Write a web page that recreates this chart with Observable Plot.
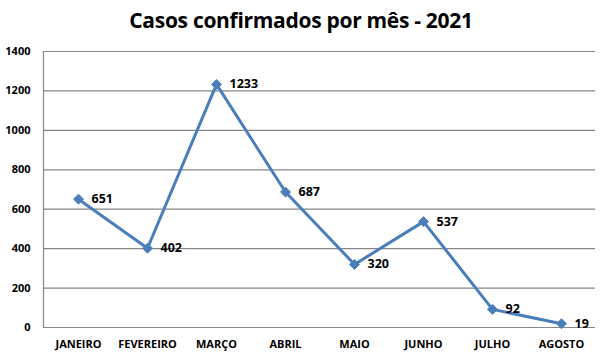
<!DOCTYPE html>
<html>
<head>
<meta charset="utf-8">
<script src="https://cdn.jsdelivr.net/npm/d3@7"></script>
<script src="https://cdn.jsdelivr.net/npm/@observablehq/plot@0.6"></script>
<style>
  body { margin: 0; background: #fff; font-family: "Open Sans", sans-serif; }
  #title { width: 602px; height: 40px; box-sizing: border-box; padding-top: 6px; text-align: center; font-size: 21px; font-weight: bold; color: #000; letter-spacing: -0.3px; }
  #chart svg { display: block; }
</style>
</head>
<body>
<div id="title">Casos confirmados por mês - 2021</div>
<div id="chart"></div>
<script>
const months = ["JANEIRO", "FEVEREIRO", "MARÇO", "ABRIL", "MAIO", "JUNHO", "JULHO", "AGOSTO"];
const cases = [651, 402, 1233, 687, 320, 537, 92, 19];
const yTicks = [0, 200, 400, 600, 800, 1000, 1200, 1400];

const data = months.map((m, i) => ({ month: m, value: cases[i] }));

const plot = Plot.plot({
  width: 602,
  height: 315,
  marginTop: 11,
  marginBottom: 28,
  marginLeft: 43,
  marginRight: 7,
  style: { fontFamily: "'Open Sans', sans-serif", fontSize: "11px", fontWeight: "bold", color: "#000", background: "#fff" },
  x: { type: "point", domain: months, padding: 0.5, label: null },
  y: { domain: [0, 1400], label: null },
  marks: [
    Plot.ruleY(yTicks, { stroke: "#868686", strokeWidth: 1.2 }),
    Plot.frame({ anchor: "left", stroke: "#868686", strokeWidth: 1.2 }),
    Plot.axisY({ ticks: yTicks, tickFormat: d => String(d), tickSize: 0, tickPadding: 13, fontWeight: "bold", fontSize: 11, fill: "#000" }),
    Plot.axisX({ tickSize: 0, tickPadding: 13, fontWeight: "bold", fontSize: 11, fill: "#000" }),
    Plot.line(data, { x: "month", y: "value", stroke: "#4A7EBB", strokeWidth: 3, strokeLinejoin: "miter" }),
    Plot.dot(data, { x: "month", y: "value", symbol: "diamond2", r: 4.5, fill: "#4A7EBB", stroke: "#4A7EBB", strokeWidth: 1 }),
    Plot.text(data, { x: "month", y: "value", text: d => String(d.value), dx: 13, textAnchor: "start", fontSize: 12.5, fontWeight: "bold", fill: "#000" })
  ]
});
document.getElementById("chart").appendChild(plot);
</script>
</body>
</html>
